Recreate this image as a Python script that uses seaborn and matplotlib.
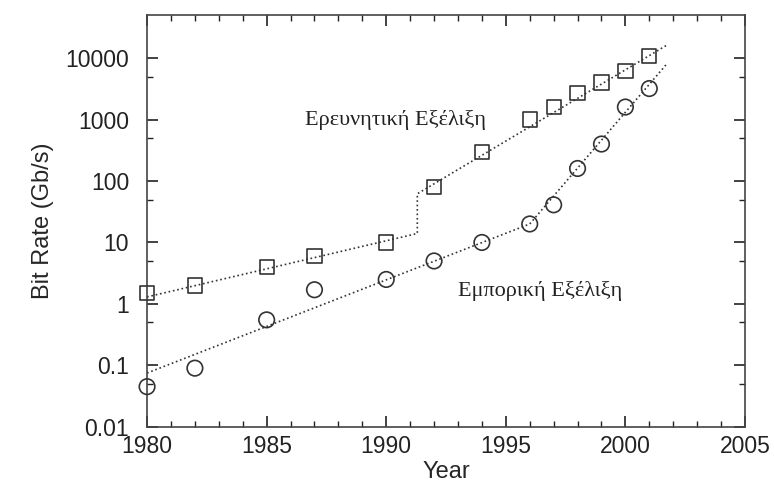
import numpy as np
import pandas as pd
import matplotlib
matplotlib.use("Agg")
import matplotlib.pyplot as plt
import seaborn as sns
from matplotlib.ticker import FixedLocator, FixedFormatter, MultipleLocator

# research (squares) data points
res_years = [1980, 1982, 1985, 1987, 1990, 1992, 1994, 1996, 1997, 1998, 1999, 2000, 2001]
res_rate = [1.5, 2, 4, 6, 10, 80, 300, 1000, 1600, 2700, 4000, 6200, 10700]

# commercial (circles) data points
com_years = [1980, 1982, 1985, 1987, 1990, 1992, 1994, 1996, 1997, 1998, 1999, 2000, 2001]
com_rate = [0.045, 0.09, 0.55, 1.7, 2.5, 5, 10, 20, 41, 160, 400, 1600, 3200]

# dotted trend lines (with step for research)
res_trend_years = [1980, 1991.3, 1991.3, 2001.7]
res_trend_rate = [1.3, 14, 62, 16000]
com_trend_years = [1980, 1996, 2001.7]
com_trend_rate = [0.075, 20, 7800]

ytick_vals = [0.01, 0.1, 1, 10, 100, 1000, 10000]
ytick_labels = ["0.01", "0.1", "1", "10", "100", "1000", "10000"]
yminor_vals = [0.05, 0.5, 5, 50, 500, 5000]

sns.set_style("ticks")
plt.rcParams["font.family"] = ["Liberation Sans", "DejaVu Sans"]

df_res = pd.DataFrame({"year": res_years, "rate": res_rate})
df_com = pd.DataFrame({"year": com_years, "rate": com_rate})
df_res_tr = pd.DataFrame({"year": res_trend_years, "rate": res_trend_rate})
df_com_tr = pd.DataFrame({"year": com_trend_years, "rate": com_trend_rate})

fig = plt.figure(figsize=(7.74, 4.90), dpi=100)
ax = fig.add_axes([0.190, 0.129, 0.7725, 0.840])

# trend lines drawn point-to-point in data order
ax.plot(df_res_tr["year"], df_res_tr["rate"], ls=":", color="#333333", lw=1.2)
ax.plot(df_com_tr["year"], df_com_tr["rate"], ls=":", color="#333333", lw=1.2)

sns.scatterplot(data=df_res, x="year", y="rate", marker="s", s=105,
                facecolor="none", edgecolor="#333333", linewidth=1.2, ax=ax, clip_on=False, zorder=3)
sns.scatterplot(data=df_com, x="year", y="rate", marker="o", s=125,
                facecolor="none", edgecolor="#333333", linewidth=1.2, ax=ax, clip_on=False, zorder=3)

ax.set_yscale("log")
ax.set_xlim(1980, 2005)
ax.set_ylim(0.01, 50000)

ax.yaxis.set_major_locator(FixedLocator(ytick_vals))
ax.yaxis.set_major_formatter(FixedFormatter(ytick_labels))
ax.yaxis.set_minor_locator(FixedLocator(yminor_vals))
ax.yaxis.set_minor_formatter(FixedFormatter([""] * len(yminor_vals)))
ax.xaxis.set_major_locator(MultipleLocator(5))
ax.xaxis.set_minor_locator(MultipleLocator(1))

ax.tick_params(which="both", direction="in", top=True, right=True, colors="#222222")
ax.tick_params(which="major", length=8, width=1.2, labelsize=16.5)
ax.tick_params(axis="y", which="major", pad=13)
ax.tick_params(axis="x", which="major", pad=6)
ax.tick_params(which="minor", length=4, width=1.0)
for sp in ax.spines.values():
    sp.set_color("#444444")
    sp.set_linewidth(1.2)

ax.set_xlabel("Year", fontsize=17, labelpad=2)
ax.set_ylabel("Bit Rate (Gb/s)", fontsize=17, labelpad=8)

ax.text(1986.6, 1000, "Ερευνητική Εξέλιξη", fontsize=16, family="Liberation Serif",
        va="center", ha="left", color="#222222")
ax.text(1993.0, 1.6, "Εμπορική Εξέλιξη", fontsize=16, family="Liberation Serif",
        va="center", ha="left", color="#222222")

fig.savefig("out.png", dpi=100)
